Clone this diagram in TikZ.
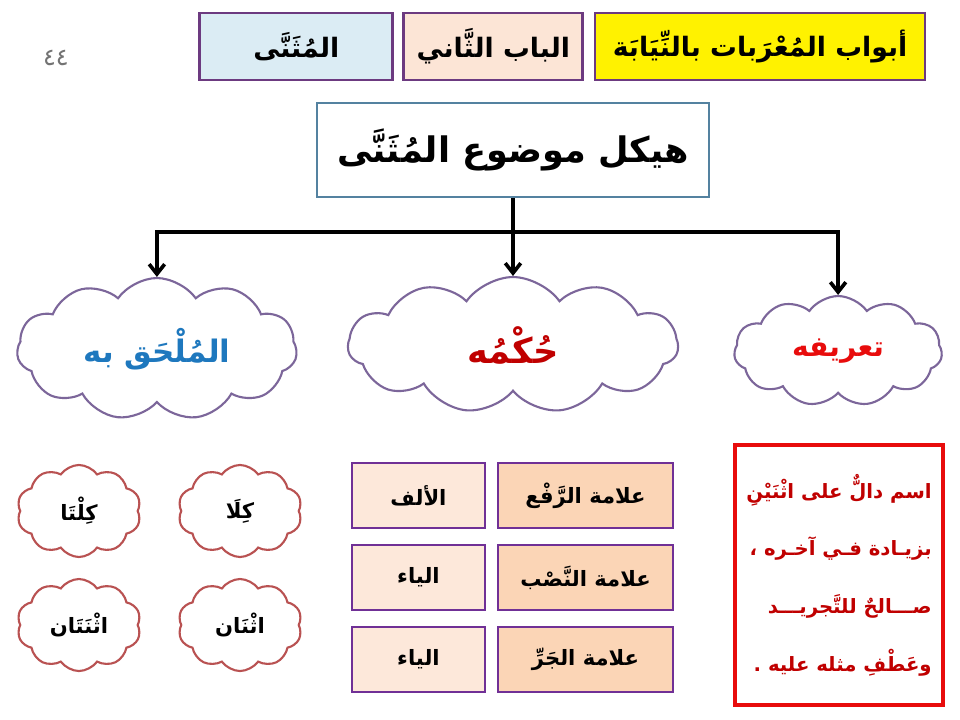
\documentclass[tikz,border=0pt]{standalone}
\usepackage{fontspec}
\usepackage{tikz}
\usetikzlibrary{arrows.meta,shapes.symbols,positioning}

\newfontfamily\arabicfont[Script=Arabic]{DejaVu Sans}
\TeXXeTstate=1
\newcommand{\artext}[1]{{\arabicfont\bfseries\beginR #1\endR}}

\definecolor{headline}{RGB}{108,58,128}
\definecolor{titleline}{RGB}{84,130,160}
\definecolor{cloudline}{RGB}{124,102,154}
\definecolor{smallcloudline}{RGB}{185,82,82}
\definecolor{cellline}{RGB}{112,48,150}
\definecolor{keyfill}{RGB}{251,213,182}
\definecolor{valfill}{RGB}{253,232,218}
\definecolor{paleblue}{RGB}{219,236,244}
\definecolor{palepink}{RGB}{252,229,214}
\definecolor{textblue}{RGB}{30,120,190}
\definecolor{darkred}{RGB}{192,0,0}
\definecolor{brightred}{RGB}{232,12,12}

\begin{document}
\begin{tikzpicture}
			[x=0.025cm,y=-0.025cm,node distance=2cm,on grid,
			headbox/.style={rectangle,draw=headline,line width=2pt,minimum height=1.675cm,inner sep=0pt,font=\fontsize{19}{22}\selectfont},
			titlebox/.style={rectangle,draw=titleline,line width=2pt,fill=white,minimum width=9.8cm,minimum height=2.35cm,font=\fontsize{25}{30}\selectfont},
			bigcloud/.style={cloud,cloud puffs=11,cloud puff arc=110,cloud ignores aspect,draw=cloudline,line width=1.5pt,fill=white,inner sep=0pt,font=\fontsize{22}{26}\selectfont},
			smallcloud/.style={cloud,cloud puffs=10,cloud puff arc=110,cloud ignores aspect,draw=smallcloudline,line width=1.5pt,fill=white,minimum width=3.1cm,minimum height=2.3cm,inner sep=0pt,font=\fontsize{15}{18}\selectfont},
			keycell/.style={rectangle,draw=cellline,line width=2pt,fill=keyfill,minimum width=4.375cm,minimum height=1.625cm,font=\fontsize{15}{18}\selectfont},
			valcell/.style={keycell,fill=valfill,minimum width=3.325cm},
			link/.style={line width=2.6pt,-{Straight Barb[length=7pt,width=11pt,line width=2.6pt]}}]

			\path[fill=white,use as bounding box] (0,0) rectangle (960,720);

			% top bar
			\node [headbox,fill=yellow,minimum width=8.25cm](abwab) at (760,46.5) {\artext{أبواب المُعْرَبات بالنِّيَابَة}};
			\node [headbox,fill=palepink,minimum width=4.475cm](bab) [left=6.665cm of abwab] {\artext{الباب الثَّاني}};
			\node [headbox,fill=paleblue,minimum width=4.825cm](muthanna) [left=4.925cm of bab] {\artext{المُثَنَّى}};
			\node [text=black!55,font=\fontsize{17}{20}\selectfont](page) at (56,58) {\arabicfont ٤٤};

			\node [titlebox](title) at (513,150) {\artext{هيكل موضوع المُثَنَّى}};

			% the three clouds
			\node [bigcloud,minimum width=8.25cm,minimum height=3.4cm,text=darkred,font=\fontsize{25}{30}\selectfont](rule) [below=4.875cm of title] {\artext{حُكْمُه}};
			\node [bigcloud,minimum width=7cm,minimum height=3.55cm,text=textblue](attached) [left=8.9cm of rule, yshift=-0.1cm] {\artext{المُلْحَق به}};
			\node [bigcloud,minimum width=5.2cm,minimum height=2.75cm,text=brightred,font=\fontsize{20}{24}\selectfont](defn) [right=8.125cm of rule, yshift=-0.15cm] {\artext{تعريفه}};

			\coordinate (split) at (513,232);
			\draw [line width=2.6pt] (title.south) -- (split);
			\draw [link] (split) -- (rule.north);
			\draw [link] (split) -| (attached.north);
			\draw [link] (split) -| (defn.north);

			% signs of the dual
			\node [keycell](key1) at (585.5,495.5)      {\artext{علامة الرَّفْع}};
			\node [valcell](val1) [left=4.175cm of key1] {\artext{الألف}};
			\node [keycell](key2) [below=2.05cm of key1] {\artext{علامة النَّصْب}};
			\node [valcell](val2) [left=4.175cm of key2] {\artext{الياء}};
			\node [keycell](key3) [below=2.05cm of key2] {\artext{علامة الجَرِّ}};
			\node [valcell](val3) [left=4.175cm of key3] {\artext{الياء}};

			% definition
			\node [rectangle,draw=brightred,line width=3pt,fill=white,minimum width=5.2cm,minimum height=6.5cm,
				text=darkred,align=right,font=\fontsize{14}{41}\selectfont](defbox) at (839,575)
				{\artext{اسم دالٌّ على اثْنَيْنِ}\\
				 \artext{بزيـادة فـي آخـره ،}\\
				 \artext{صـــالحٌ للتَّجريـــد}\\
				 \artext{وعَطْفِ مثله عليه .}};

			% words attached to the dual
			\node [smallcloud](kila) at (240,511)            {\artext{كِلَا}};
			\node [smallcloud](kilta) [left=4.025cm of kila]  {\artext{كِلْتَا}};
			\node [smallcloud](ithnan) [below=2.85cm of kila] {\artext{اثْنَان}};
			\node [smallcloud](ithnatan) [left=4.025cm of ithnan] {\artext{اثْنَتَان}};

\end{tikzpicture}
\end{document}
